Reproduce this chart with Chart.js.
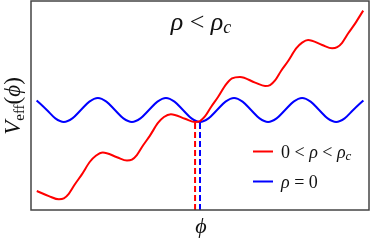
<html>

<head>
    <script src="https://cdn.jsdelivr.net/npm/chart.js"></script>
    <style>
        body { margin: 0; background: #fff; }
        #wrap { width: 371px; height: 242px; }
    </style>
</head>

<body>
    <div id="wrap">
        <canvas id="chart_id"></canvas>
    </div>
    <script>
        // 1. 데이터 (phi: 1/4 주기 단위, V: 임의 단위)
        const bluePhi = [-9.6, -9, -8.5, -8, -7.5, -7, -6.5, -6, -5.5, -5, -4.5, -4, -3.5, -3, -2.5, -2, -1.5, -1, -0.5, 0,
            0.5, 1, 1.5, 2, 2.5, 3, 3.5, 4, 4.5, 5, 5.5, 6, 6.5, 7, 7.5, 8, 8.5, 9, 9.6];
        const blueV = [0.8, 0, -0.7, -1, -0.7, 0, 0.7, 1, 0.7, 0, -0.7, -1, -0.7, 0, 0.7, 1, 0.7, 0, -0.7, -1,
            -0.7, 0, 0.7, 1, 0.7, 0, -0.7, -1, -0.7, 0, 0.7, 1, 0.7, 0, -0.7, -1, -0.7, 0, 0.8];
        const redPhi = [-9.59, -8.88, -8.29, -8.0, -7.71, -7.35, -6.94, -6.47, -6.12, -5.71, -4.88, -4.29, -4.0, -3.71,
            -3.35, -2.94, -2.47, -2.12, -1.71, -0.88, -0.29, 0, 0.29, 0.65, 1.06, 1.53, 1.88, 2.35, 3.24, 3.82, 4.12,
            4.41, 4.76, 5.18, 5.65, 6.0, 6.35, 7.18, 7.76, 8.06, 8.35, 8.71, 9.12, 9.59];
        const redV = [-6.75, -7.17, -7.44, -7.36, -6.98, -6.19, -5.36, -4.31, -3.81, -3.54, -3.93, -4.21, -4.13, -3.75,
            -2.96, -2.13, -1.08, -0.58, -0.35, -0.73, -1.0, -0.92, -0.54, 0.25, 1.08, 2.13, 2.63, 2.75, 2.28, 2.0, 2.08,
            2.46, 3.25, 4.08, 5.13, 5.61, 5.83, 5.42, 5.14, 5.23, 5.6, 6.39, 7.22, 8.28];
        // 최소점 위치 (점선)
        const dashPhi = [-0.29, 0];
        const dashV = [-1.0, -1.0];
        const labels = ['0 < ρ < ρc', 'ρ = 0'];
        const xRange = [-9.93, 9.93];
        const yRange = [-8.33, 9.08];

        const SERIF = '"Liberation Serif", "Times New Roman", Times, "DejaVu Serif", serif';

        // 2. 수식 텍스트 그리기 (아래첨자 포함)
        function setFont(ctx, p) {
            ctx.font = (p.it ? 'italic ' : 'normal ') + p.size + 'px ' + SERIF;
        }
        function mathWidth(ctx, parts) {
            let w = 0;
            parts.forEach(p => {
                setFont(ctx, p);
                w += ctx.measureText(p.t).width;
            });
            return w;
        }
        function drawMath(ctx, parts, x, y, align) {
            let cx = align === 'center' ? x - mathWidth(ctx, parts) / 2 : x;
            ctx.textAlign = 'left';
            ctx.textBaseline = 'alphabetic';
            parts.forEach(p => {
                setFont(ctx, p);
                ctx.fillText(p.t, cx, y + (p.dy || 0));
                cx += ctx.measureText(p.t).width;
            });
        }

        const textPlugin = {
            id: 'textPlugin',
            afterDraw(chart) {
                const { ctx, chartArea: a } = chart;
                ctx.save();
                // 테두리
                ctx.strokeStyle = '#444';
                ctx.lineWidth = 1.5;
                ctx.strokeRect(a.left, a.top, a.right - a.left, a.bottom - a.top);
                ctx.fillStyle = '#111';
                // 제목
                drawMath(ctx, [
                    { t: 'ρ', it: true, size: 26 },
                    { t: ' < ', size: 26 },
                    { t: 'ρ', it: true, size: 26 },
                    { t: 'c', it: true, size: 18, dy: 3 }
                ], 201, 30, 'center');
                // x축 라벨
                drawMath(ctx, [{ t: 'ϕ', it: true, size: 22 }], 201, 233, 'center');
                // y축 라벨
                ctx.translate(20, 106);
                ctx.rotate(-Math.PI / 2);
                drawMath(ctx, [
                    { t: 'V', it: true, size: 23 },
                    { t: 'eff', size: 15, dy: 4 },
                    { t: '(', size: 23 },
                    { t: 'ϕ', it: true, size: 23 },
                    { t: ')', size: 23 }
                ], 0, 0, 'center');
                ctx.restore();

                // 범례
                ctx.save();
                const items = [
                    { color: '#ff0000', y: 153, parts: [
                        { t: '0 < ', size: 18 }, { t: 'ρ', it: true, size: 18 }, { t: ' < ', size: 18 },
                        { t: 'ρ', it: true, size: 18 }, { t: 'c', it: true, size: 13, dy: 2 }] },
                    { color: '#0000ff', y: 183, parts: [
                        { t: 'ρ', it: true, size: 18 }, { t: ' = 0', size: 18 }] }
                ];
                items.forEach(it => {
                    ctx.strokeStyle = it.color;
                    ctx.lineWidth = 2;
                    ctx.beginPath();
                    ctx.moveTo(253, it.y - 1.5);
                    ctx.lineTo(273, it.y - 1.5);
                    ctx.stroke();
                    ctx.fillStyle = '#111';
                    drawMath(ctx, it.parts, 281, it.y + 5, 'left');
                });
                ctx.restore();
            }
        };

        // 3. 차트 그리기
        function makeChart() {
            const toXY = (xs, ys) => xs.map((x, i) => ({ x: x, y: ys[i] }));
            new Chart(document.getElementById('chart_id'), {
                type: 'line',
                data: {
                    datasets: [{
                        label: labels[0],
                        data: toXY(redPhi, redV),
                        borderColor: '#ff0000',
                        borderWidth: 2,
                        pointRadius: 0,
                        cubicInterpolationMode: 'monotone'
                    }, {
                        label: labels[1],
                        data: toXY(bluePhi, blueV),
                        borderColor: '#0000ff',
                        borderWidth: 2,
                        pointRadius: 0,
                        cubicInterpolationMode: 'monotone'
                    }, {
                        data: [{ x: dashPhi[0], y: yRange[0] }, { x: dashPhi[0], y: dashV[0] }],
                        borderColor: '#ff0000',
                        borderWidth: 2,
                        borderDash: [6, 3],
                        pointRadius: 0
                    }, {
                        data: [{ x: dashPhi[1], y: yRange[0] }, { x: dashPhi[1], y: dashV[1] }],
                        borderColor: '#0000ff',
                        borderWidth: 2,
                        borderDash: [6, 3],
                        pointRadius: 0
                    }]
                },
                options: {
                    responsive: true,
                    maintainAspectRatio: false,
                    animation: false,
                    layout: { padding: { left: 31, right: 2, top: 1, bottom: 32 } },
                    plugins: { legend: { display: false }, tooltip: { enabled: false } },
                    scales: {
                        x: { type: 'linear', min: xRange[0], max: xRange[1], display: false },
                        y: { min: yRange[0], max: yRange[1], display: false }
                    }
                },
                plugins: [textPlugin]
            });
        }
        makeChart();
    </script>
</body>

</html>
